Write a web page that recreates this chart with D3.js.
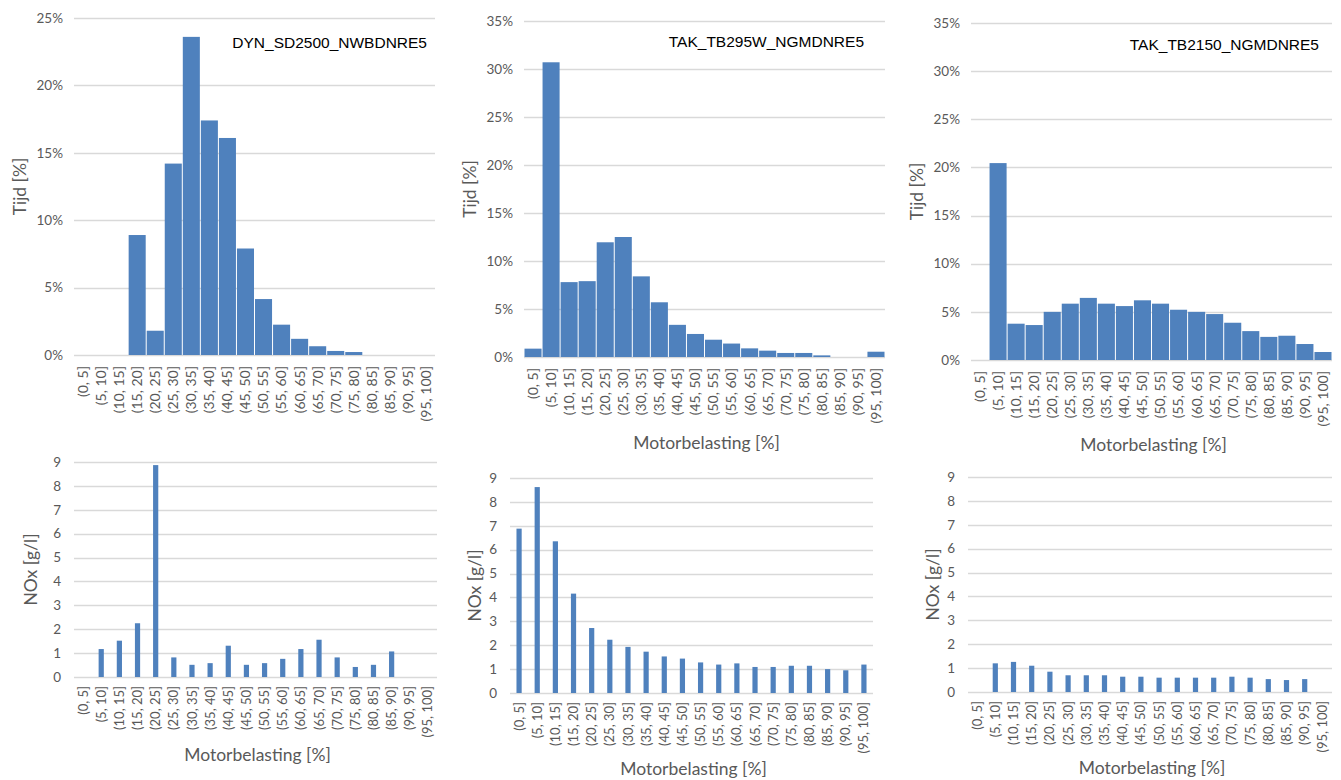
<!DOCTYPE html>
<meta charset="utf-8">
<head>
    <script src="https://d3js.org/d3.v7.min.js"></script>
</head>
<style>
    body { margin: 0; background: #fff; }
    .tick-label { font-family: Lato, sans-serif; fill: #595959; }
    .axis-title { font-family: Lato, sans-serif; fill: #595959; }
    .note { font-family: 'Liberation Sans', Arial, sans-serif; fill: #000; }
</style>
<svg width="1341" height="780"></svg>
<script>
    // load bins, shared by all six charts
    var categories = ["(0, 5]", "(5, 10]", "(10, 15]", "(15, 20]", "(20, 25]", "(25, 30]", "(30, 35]",
        "(35, 40]", "(40, 45]", "(45, 50]", "(50, 55]", "(55, 60]", "(60, 65]", "(65, 70]", "(70, 75]",
        "(75, 80]", "(80, 85]", "(85, 90]", "(90, 95]", "(95, 100]"];

    // time share per bin [%]
    var tijdDYN = [0, 0, 0, 8.9, 1.8, 14.2, 23.6, 17.4, 16.1, 7.9, 4.15, 2.25, 1.2, 0.65, 0.3, 0.22, 0, 0, 0, 0];
    var tijdTB295W = [0.87, 30.7, 7.8, 7.9, 11.95, 12.5, 8.4, 5.7, 3.35, 2.4, 1.8, 1.4, 0.9, 0.66, 0.42, 0.42, 0.17, 0, 0, 0.55];
    var tijdTB2150 = [0, 20.45, 3.77, 3.63, 5.0, 5.85, 6.45, 5.85, 5.6, 6.2, 5.85, 5.22, 5.0, 4.77, 3.87, 3.0, 2.4, 2.52, 1.66, 0.83];

    // NOx per bin [g/l], null = no value
    var noxDYN = [null, 1.17, 1.52, 2.25, 8.87, 0.82, 0.51, 0.58, 1.31, 0.51, 0.58, 0.76, 1.17, 1.56, 0.82, 0.42, 0.51, 1.07, null, null];
    var noxTB295W = [6.88, 8.62, 6.35, 4.16, 2.72, 2.23, 1.93, 1.73, 1.53, 1.44, 1.28, 1.19, 1.24, 1.09, 1.09, 1.14, 1.14, 1.0, 0.95, 1.19];
    var noxTB2150 = [null, 1.2, 1.26, 1.1, 0.85, 0.7, 0.7, 0.7, 0.64, 0.64, 0.6, 0.6, 0.6, 0.6, 0.64, 0.6, 0.54, 0.5, 0.54, null];

    var tijdTicks = [0, 5, 10, 15, 20, 25, 30, 35];
    var noxTicks = [0, 1, 2, 3, 4, 5, 6, 7, 8, 9];

    var svg = d3.select("svg");
    var barColor = "#4f81bd";
    var gridColor = "#d9d9d9";

    var panels = [
        { values: tijdDYN, kind: "hist", max: 25, note: "DYN_SD2500_NWBDNRE5", noteX: 427, noteY: 48,
          left: 74, right: 435, top: 18, bottom: 355, yTitle: "Tijd [%]", yTitleX: 20, xTitle: null },
        { values: tijdTB295W, kind: "hist", max: 35, note: "TAK_TB295W_NGMDNRE5", noteX: 864, noteY: 47,
          left: 524, right: 885, top: 21, bottom: 357, yTitle: "Tijd [%]", yTitleX: 470, xTitle: "Motorbelasting [%]", xTitleY: 449 },
        { values: tijdTB2150, kind: "hist", max: 35, note: "TAK_TB2150_NGMDNRE5", noteX: 1319, noteY: 50,
          left: 971, right: 1332, top: 23, bottom: 360, yTitle: "Tijd [%]", yTitleX: 917, xTitle: "Motorbelasting [%]", xTitleY: 451 },
        { values: noxDYN, kind: "col", max: 9,
          left: 74, right: 437, top: 462, bottom: 677, yTitle: "NOx [g/l]", yTitleX: 31, xTitle: "Motorbelasting [%]", xTitleY: 761 },
        { values: noxTB295W, kind: "col", max: 9,
          left: 510, right: 873, top: 478, bottom: 693, yTitle: "NOx [g/l]", yTitleX: 475, xTitle: "Motorbelasting [%]", xTitleY: 775 },
        { values: noxTB2150, kind: "col", max: 9,
          left: 968, right: 1332, top: 477, bottom: 692, yTitle: "NOx [g/l]", yTitleX: 933, xTitle: "Motorbelasting [%]", xTitleY: 774 }
    ];

    panels.forEach(function(p) {
        var g = svg.append("g");

        var x = d3.scaleBand()
            .domain(categories)
            .range([p.left, p.right])
            .padding(0);
        var y = d3.scaleLinear()
            .domain([0, p.max])
            .range([p.bottom, p.top]);

        var ticks = (p.kind == "hist" ? tijdTicks : noxTicks).filter(function(t) { return t <= p.max; });

        // gridlines
        g.append("g")
            .selectAll("line")
            .data(ticks)
            .enter().append("line")
            .attr("x1", p.left)
            .attr("x2", p.right)
            .attr("y1", function(d) { return Math.round(y(d)) + 0.5; })
            .attr("y2", function(d) { return Math.round(y(d)) + 0.5; })
            .attr("stroke", gridColor)
            .attr("stroke-width", 1.3);

        // y tick labels
        g.append("g")
            .selectAll("text")
            .data(ticks)
            .enter().append("text")
            .attr("class", "tick-label")
            .attr("x", p.left - (p.kind == "hist" ? 11 : 13))
            .attr("y", function(d) { return y(d); })
            .attr("dy", "0.35em")
            .attr("text-anchor", "end")
            .style("font-size", "13.5px")
            .text(function(d) { return p.kind == "hist" ? d + "%" : d; });

        // bars
        var bw = x.bandwidth();
        g.append("g")
            .selectAll("rect")
            .data(p.values.map(function(v, i) { return { c: categories[i], v: v }; })
                .filter(function(d) { return d.v != null && d.v > 0; }))
            .enter().append("rect")
            .attr("x", function(d) {
                return p.kind == "hist" ? x(d.c) + 0.5 : x(d.c) + bw / 2 - 2.6;
            })
            .attr("width", p.kind == "hist" ? bw - 1 : 5.2)
            .attr("y", function(d) { return y(d.v); })
            .attr("height", function(d) { return p.bottom - y(d.v); })
            .attr("fill", barColor);

        // category labels, rotated
        g.append("g")
            .selectAll("text")
            .data(categories)
            .enter().append("text")
            .attr("class", "tick-label")
            .attr("transform", function(d) {
                return "translate(" + (x(d) + bw / 2) + "," + (p.bottom + (p.kind == "hist" ? 11 : 9)) + ") rotate(-90)";
            })
            .attr("dy", "0.35em")
            .attr("text-anchor", "end")
            .style("font-size", p.kind == "hist" ? "14px" : "13px")
            .text(function(d) { return d; });

        // y title
        g.append("text")
            .attr("class", "axis-title")
            .attr("transform", "translate(" + p.yTitleX + "," + ((p.top + p.bottom) / 2) + ") rotate(-90)")
            .attr("text-anchor", "middle")
            .attr("dy", "0.35em")
            .style("font-size", "17.5px")
            .text(p.yTitle);

        if (p.xTitle) {
            g.append("text")
                .attr("class", "axis-title")
                .attr("x", (p.left + p.right) / 2 + 2)
                .attr("y", p.xTitleY)
                .attr("text-anchor", "middle")
                .style("font-size", "17.5px")
                .text(p.xTitle);
        }

        if (p.note) {
            g.append("text")
                .attr("class", "note")
                .attr("x", p.noteX)
                .attr("y", p.noteY)
                .attr("text-anchor", "end")
                .style("font-size", "15.5px")
                .text(p.note);
        }
    });
</script>
